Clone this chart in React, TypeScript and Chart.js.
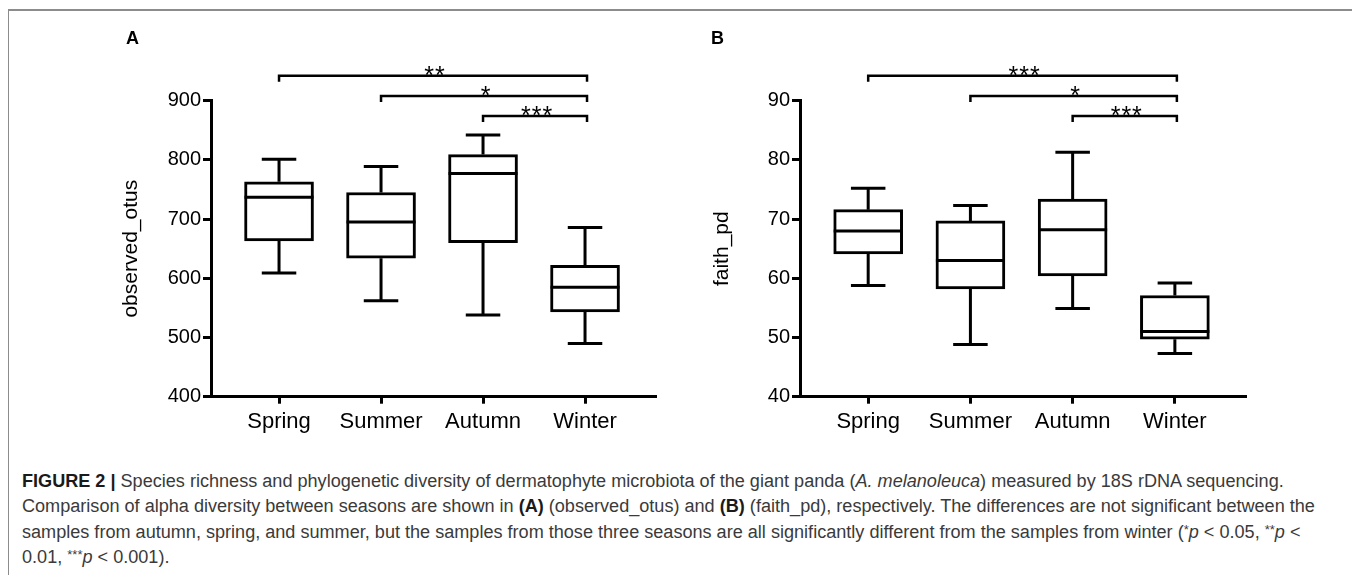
import React, { useEffect, useLayoutEffect, useRef, useState } from "react";
import { Chart, registerables } from "chart.js";

Chart.register(...registerables);

const FONT = "'Liberation Sans', Arial, Helvetica, sans-serif";

// ---- data ----
const categories = ["Spring", "Summer", "Autumn", "Winter"];

const otusMin = [609, 562, 538, 490];
const otusQ1 = [663, 634, 660, 543];
const otusMedian = [737, 695, 777, 585];
const otusQ3 = [763, 745, 809, 622];
const otusMax = [801, 789, 842, 686];
const otusTicks = [400, 500, 600, 700, 800, 900];
const otusBrackets = [
  { from: 0, to: 3, label: "**" },
  { from: 1, to: 3, label: "*" },
  { from: 2, to: 3, label: "***" },
];

const faithMin = [58.8, 48.8, 54.9, 47.3];
const faithQ1 = [64.1, 58.2, 60.4, 49.7];
const faithMedian = [68.0, 63.0, 68.2, 51.0];
const faithQ3 = [71.6, 69.7, 73.4, 57.1];
const faithMax = [75.2, 72.3, 81.3, 59.2];
const faithTicks = [40, 50, 60, 70, 80, 90];
const faithBrackets = [
  { from: 0, to: 3, label: "***" },
  { from: 1, to: 3, label: "*" },
  { from: 2, to: 3, label: "***" },
];

type Stats = {
  min: number[];
  q1: number[];
  median: number[];
  q3: number[];
  max: number[];
  brackets: { from: number; to: number; label: string }[];
};

const boxPlugin = {
  id: "boxWhiskers",
  afterDraw(chart: any, _args: any, opts: any) {
    const stats: Stats = opts.stats;
    if (!stats) return;
    const { ctx, chartArea } = chart;
    const xs = chart.scales.x;
    const ys = chart.scales.y;
    const meta = chart.getDatasetMeta(0);
    ctx.save();
    ctx.strokeStyle = "#000";
    ctx.lineCap = "butt";
    ctx.lineWidth = 3;
    categories.forEach((_, i) => {
      const bar = meta.data[i];
      const cx = xs.getPixelForValue(i);
      const w = bar ? bar.width : 69;
      const yMed = ys.getPixelForValue(stats.median[i]);
      const yQ1 = ys.getPixelForValue(stats.q1[i]);
      const yQ3 = ys.getPixelForValue(stats.q3[i]);
      const yMin = ys.getPixelForValue(stats.min[i]);
      const yMax = ys.getPixelForValue(stats.max[i]);
      const cap = w / 2;
      ctx.beginPath();
      // median
      ctx.moveTo(cx - w / 2, yMed);
      ctx.lineTo(cx + w / 2, yMed);
      // whiskers
      ctx.moveTo(cx, yQ3);
      ctx.lineTo(cx, yMax);
      ctx.moveTo(cx, yQ1);
      ctx.lineTo(cx, yMin);
      // caps
      ctx.moveTo(cx - cap / 2, yMax);
      ctx.lineTo(cx + cap / 2, yMax);
      ctx.moveTo(cx - cap / 2, yMin);
      ctx.lineTo(cx + cap / 2, yMin);
      ctx.stroke();
    });

    // significance brackets
    const offsets = [-25, -4.7, 15.3];
    ctx.lineWidth = 2.5;
    ctx.fillStyle = "#000";
    ctx.font = `25px ${FONT}`;
    ctx.textAlign = "center";
    ctx.textBaseline = "alphabetic";
    try {
      (ctx as any).letterSpacing = "1px";
    } catch (e) {}
    stats.brackets.forEach((b, k) => {
      const y = chartArea.top + offsets[k];
      const x1 = xs.getPixelForValue(b.from);
      const x2 = xs.getPixelForValue(b.to) + 2;
      ctx.beginPath();
      ctx.moveTo(x1, y + 6);
      ctx.lineTo(x1, y);
      ctx.lineTo(x2, y);
      ctx.lineTo(x2, y + 6);
      ctx.stroke();
      ctx.fillText(b.label, (x1 + x2) / 2 + 2, y + 8);
    });
    ctx.restore();
  },
};

type PanelProps = {
  left: number;
  stats: Stats;
  ticks: number[];
  yTitle: string;
  padLeft: number;
  padRight: number;
  yWidth: number;
};

function Panel({ left, stats, ticks, yTitle, padLeft, padRight, yWidth }: PanelProps) {
  const ref = useRef<HTMLCanvasElement>(null);
  useEffect(() => {
    if (!ref.current) return;
    const chart = new Chart(ref.current, {
      type: "bar",
      data: {
        datasets: [
          {
            data: categories.map((_, i) => ({ x: i, y: [stats.q1[i], stats.q3[i]] })) as any,
            backgroundColor: "#fff",
            borderColor: "#000",
            borderWidth: 3,
            borderSkipped: false,
            barThickness: 69,
          },
        ],
      },
      options: {
        responsive: false,
        animation: false,
        events: [],
        layout: { padding: { left: padLeft, right: padRight, top: 92.7, bottom: 11.3 } },
        plugins: {
          legend: { display: false },
          tooltip: { enabled: false },
          boxWhiskers: { stats },
        } as any,
        scales: {
          x: {
            type: "linear",
            offset: false,
            min: -0.667,
            max: 3.686,
            afterBuildTicks: (axis: any) => {
              axis.ticks = categories.map((_, i) => ({ value: i }));
            },
            afterFit: (s: any) => {
              s.height = 40;
            },
            ticks: {
              callback: (_v: any, i: number) => categories[i],
              font: { family: FONT, size: 22 },
              color: "#000",
              padding: 5,
              autoSkip: false,
              maxRotation: 0,
            },
            grid: {
              display: true,
              offset: false,
              drawOnChartArea: false,
              tickLength: 7,
              tickWidth: 3,
              lineWidth: 3,
              color: "#000",
              tickColor: "#000",
            },
            border: { display: true, width: 3, color: "#000" },
          },
          y: {
            type: "linear",
            min: ticks[0],
            max: ticks[ticks.length - 1],
            afterBuildTicks: (axis: any) => {
              axis.ticks = ticks.map((v) => ({ value: v }));
            },
            afterFit: (s: any) => {
              s.width = yWidth;
            },
            ticks: {
              font: { family: FONT, size: 20 },
              color: "#000",
              padding: 2,
            },
            grid: {
              display: true,
              drawOnChartArea: false,
              tickLength: 8,
              tickWidth: 3,
              lineWidth: 3,
              color: "#000",
              tickColor: "#000",
            },
            border: { display: true, width: 3, color: "#000" },
            title: {
              display: true,
              text: yTitle,
              font: { family: FONT, size: 21 },
              color: "#000",
              padding: { top: 0, bottom: 0 },
            },
          },
        } as any,
      },
      plugins: [boxPlugin],
    } as any);
    return () => chart.destroy();
  }, []);
  return (
    <canvas
      ref={ref}
      width={680}
      height={440}
      style={{ position: "absolute", left, top: 0, width: 680, height: 440 }}
    />
  );
}

const star = (s: string) => (
  <span style={{ fontSize: "0.72em", position: "relative", top: "-0.3em" }}>{s}</span>
);

function Caption() {
  const l1 = useRef<HTMLSpanElement>(null);
  const [k, setK] = useState(1);
  useLayoutEffect(() => {
    if (l1.current) {
      const w = l1.current.offsetWidth;
      if (w > 0) setK(1262 / w);
    }
  }, []);
  const lineStyle: React.CSSProperties = {
    display: "inline-block",
    whiteSpace: "nowrap",
    transformOrigin: "0 0",
    transform: `scaleX(${k})`,
  };
  const rowStyle: React.CSSProperties = { height: 25.3, lineHeight: "25.3px", whiteSpace: "nowrap" };
  const b: React.CSSProperties = { fontWeight: "bold", color: "#1a1a1a" };
  return (
    <div
      style={{
        position: "absolute",
        left: 13.7,
        top: 461,
        fontFamily: FONT,
        fontSize: 18,
        color: "#3a3a3a",
      }}
    >
      <div style={rowStyle}>
        <span ref={l1} style={lineStyle}>
          <span style={b}>FIGURE 2 |</span> Species richness and phylogenetic diversity of dermatophyte microbiota of the
          giant panda (<i>A. melanoleuca</i>) measured by 18S rDNA sequencing.
        </span>
      </div>
      <div style={rowStyle}>
        <span style={lineStyle}>
          Comparison of alpha diversity between seasons are shown in <span style={b}>(A)</span> (observed_otus) and{" "}
          <span style={b}>(B)</span> (faith_pd), respectively. The differences are not significant between the
        </span>
      </div>
      <div style={rowStyle}>
        <span style={lineStyle}>
          samples from autumn, spring, and summer, but the samples from those three seasons are all significantly
          different from the samples from winter ({star("*")}
          <i>p</i> &lt; 0.05, {star("**")}
          <i>p</i> &lt;
        </span>
      </div>
      <div style={rowStyle}>
        <span style={lineStyle}>
          0.01, {star("***")}
          <i>p</i> &lt; 0.001).
        </span>
      </div>
    </div>
  );
}

const otusStats: Stats = {
  min: otusMin,
  q1: otusQ1,
  median: otusMedian,
  q3: otusQ3,
  max: otusMax,
  brackets: otusBrackets,
};
const faithStats: Stats = {
  min: faithMin,
  q1: faithQ1,
  median: faithMedian,
  q3: faithQ3,
  max: faithMax,
  brackets: faithBrackets,
};

export default function App() {
  const label: React.CSSProperties = {
    position: "absolute",
    top: 21.3,
    fontFamily: FONT,
    fontWeight: "bold",
    fontSize: 18,
    lineHeight: "18px",
    color: "#000",
  };
  return (
    <div style={{ position: "relative", width: 1352, height: 567, overflow: "hidden", background: "#fff" }}>
      <div
        style={{
          position: "absolute",
          left: -1,
          top: 1,
          width: 1347,
          height: 600,
          border: "2px solid #8c8c8c",
          boxSizing: "content-box",
        }}
      />
      <Panel
        left={0}
        stats={otusStats}
        ticks={otusTicks}
        yTitle="observed_otus"
        padLeft={110.4}
        padRight={33}
        yWidth={92.6}
      />
      <Panel
        left={672}
        stats={faithStats}
        ticks={faithTicks}
        yTitle="faith_pd"
        padLeft={29.9}
        padRight={115}
        yWidth={90.1}
      />
      <div style={{ ...label, left: 118 }}>A</div>
      <div style={{ ...label, left: 703 }}>B</div>
      <Caption />
    </div>
  );
}
